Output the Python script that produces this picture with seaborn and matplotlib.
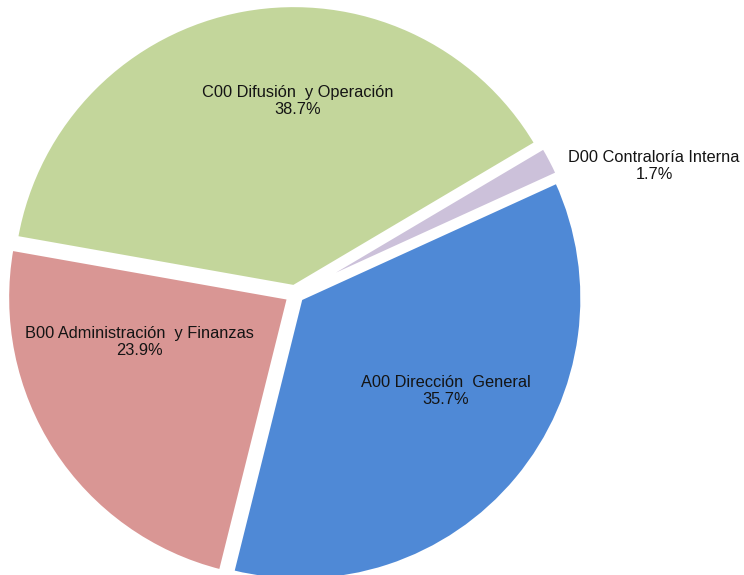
import numpy as np
import seaborn as sns
import matplotlib
matplotlib.use("Agg")
import matplotlib.pyplot as plt

# data (percent of total)
areas = ["A00 Dirección  General", "D00 Contraloría Interna",
         "C00 Difusión  y Operación", "B00 Administración  y Finanzas"]
shares = [35.7, 1.7, 38.7, 23.9]
colors = ["#4F89D6", "#CCC1DA", "#C3D69B", "#D99694"]

# label anchor points in pie units (radius = 1)
label_pos = [(0.535, -0.344), (1.273, 0.454), (0.011, 0.684), (-0.55, -0.17)]

sns.set_theme(style="white")
plt.rcParams["font.family"] = ["Liberation Sans", "DejaVu Sans"]

fig = plt.figure(figsize=(7.44, 5.75), dpi=100)
ax = fig.add_axes([0, 0, 1, 1])

wedges, _ = ax.pie(shares, colors=sns.color_palette(colors), startangle=-104,
                   counterclock=True, explode=[0.025] * 4,
                   wedgeprops=dict(edgecolor="white", linewidth=3))

for name, val, (x, y) in zip(areas, shares, label_pos):
    ax.text(x, y, f"{name}\n{val:.1f}%", ha="center", va="center",
            fontsize=11.8, color="#141414", linespacing=1.2)

# pixel layout: pie centre near (295, 294), radius ~282 px
r_px = 282
cx, cy = 295, 294
ax.set_xlim(-cx / r_px, (744 - cx) / r_px)
ax.set_ylim(-(575 - cy) / r_px, cy / r_px)
ax.set_aspect("equal")
ax.axis("off")

fig.savefig("out.png", dpi=100)
